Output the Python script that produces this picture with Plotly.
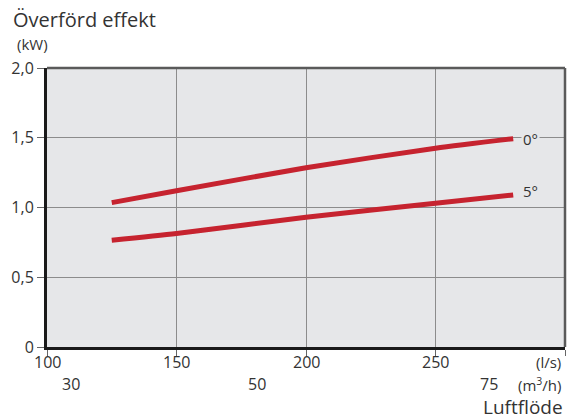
import plotly.graph_objects as go

flow_ls = [125, 150, 200, 250, 280]
effekt_0 = [1.035, 1.12, 1.285, 1.425, 1.493]
effekt_5 = [0.766, 0.814, 0.93, 1.03, 1.09]
series_labels = ["0°", "5°"]

x_ticks = [100, 150, 200, 250, 300]
x_ticktext = ["100", "150", "200", "250"]
y_ticks = [0, 0.5, 1.0, 1.5, 2.0]
y_ticktext = ["0", "0,5", "1,0", "1,5", "2,0"]
m3h_labels = ["30", "50", "75"]
m3h_pos = [109.3, 181, 270.6]

FONT = "Open Sans"
TXT = "#333333"
RED = "#c6232f"
BG = "#e6e7e9"
GRID = "#8c8c8c"

W, H = 572, 419
l, r, t, b = 47, 7, 68, 72
pw, ph = W - l - r, H - t - b

fig = go.Figure()
for ys in (effekt_0, effekt_5):
    fig.add_trace(go.Scatter(x=flow_ls, y=ys, mode="lines",
                             line=dict(color=RED, width=5, shape="spline", smoothing=0.6),
                             hoverinfo="skip", showlegend=False))

fig.update_layout(
    width=W, height=H,
    margin=dict(l=l, r=r, t=t, b=b),
    paper_bgcolor="white", plot_bgcolor=BG,
    font=dict(family=FONT, size=16, color=TXT),
    showlegend=False,
)
fig.update_xaxes(range=[100, 300], tickvals=x_ticks, showticklabels=False,
                 showgrid=True, gridcolor=GRID, gridwidth=1.3,
                 showline=True, linecolor="#1a1a1a", linewidth=3,
                 ticks="outside", ticklen=6, tickcolor="#666666", tickwidth=1,
                 zeroline=False)
fig.update_yaxes(range=[0, 2.0], tickvals=y_ticks, ticktext=y_ticktext,
                 showgrid=True, gridcolor=GRID, gridwidth=1.3,
                 showline=True, linecolor="#1a1a1a", linewidth=3,
                 ticks="outside", ticklen=7, tickcolor="#666666", tickwidth=1,
                 zeroline=False, tickfont=dict(size=16, color=TXT))

# top and right frame
fig.add_shape(type="line", xref="paper", yref="paper", x0=0, x1=1, y0=1, y1=1,
              line=dict(color="#5a5a5a", width=2.5))
fig.add_shape(type="line", xref="paper", yref="paper", x0=1, x1=1, y0=0, y1=1,
              line=dict(color="#5a5a5a", width=2.5))

# x tick labels (l/s)
for val, txt in zip(x_ticks, x_ticktext):
    fig.add_annotation(x=val, y=0, xref="x", yref="paper", text=txt, showarrow=False,
                       xanchor="center", yanchor="middle", yshift=-15,
                       font=dict(size=16, color=TXT))

# series labels
for lab, ys in zip(series_labels, (effekt_0, effekt_5)):
    fig.add_annotation(x=283, y=ys[-1], xref="x", yref="y", text=lab,
                       showarrow=False, xanchor="left", yanchor="middle",
                       bgcolor=BG if lab == "0°" else "rgba(0,0,0,0)",
                       borderpad=1, yshift=0 if lab == "0°" else 4,
                       font=dict(size=15, color=TXT))

# second axis row (m3/h)
for lab, px in zip(m3h_labels, m3h_pos):
    fig.add_annotation(x=px, y=0, xref="x", yref="paper", text=lab, showarrow=False,
                       xanchor="center", yanchor="middle", yshift=-37,
                       font=dict(size=16, color=TXT))
fig.add_annotation(x=1, y=0, xref="paper", yref="paper", text="(m<sup>3</sup>/h)",
                   showarrow=False, xanchor="right", yanchor="middle", xshift=-2, yshift=-37,
                   font=dict(size=15, color=TXT))
fig.add_annotation(x=1, y=0, xref="paper", yref="paper", text="(l/s)",
                   showarrow=False, xanchor="right", yanchor="middle", xshift=-2, yshift=-15,
                   font=dict(size=15, color=TXT))
fig.add_annotation(x=1, y=0, xref="paper", yref="paper", text="Luftflöde",
                   showarrow=False, xanchor="right", yanchor="middle", xshift=0, yshift=-60,
                   font=dict(size=19, color=TXT))

# y-axis titles (pixel positions converted to paper coords)
fig.add_annotation(x=(11 - l) / pw, y=(H - b - 20) / ph, xref="paper", yref="paper",
                   text="Överförd effekt", showarrow=False, xanchor="left", yanchor="middle",
                   font=dict(size=20, color=TXT))
fig.add_annotation(x=(15 - l) / pw, y=(H - b - 44) / ph, xref="paper", yref="paper",
                   text="(kW)", showarrow=False, xanchor="left", yanchor="middle",
                   font=dict(size=15, color=TXT))

fig.write_html("out.html", config={"displayModeBar": False},
               post_script="document.body.style.margin='0';document.body.style.padding='0';")
